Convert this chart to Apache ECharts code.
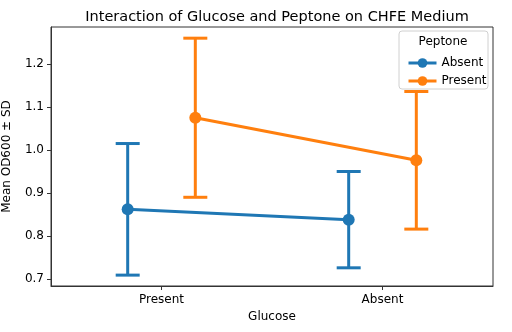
<!DOCTYPE html>
<html><head><meta charset="utf-8">
<script src="https://cdn.jsdelivr.net/npm/echarts@6/dist/echarts.min.js"></script>
<style>html,body{margin:0;padding:0;background:#fff}#c{width:512px;height:332px}</style>
</head><body><div id="c"></div>
<script>
var categories = ['Present', 'Absent'];
var hueNames = ['Absent', 'Present'];
var meansAbsent = [0.862, 0.838];
var sdAbsent = [0.153, 0.112];
var meansPresent = [1.075, 0.976];
var sdPresent = [0.185, 0.160];
var yTicks = [0.7, 0.8, 0.9, 1.0, 1.1, 1.2];
var colors = ['#1f77b4', '#ff7f0e'];
var dodge = 0.153;

var chart = echarts.init(document.getElementById('c'));
var font = 'DejaVu Sans';

function pts(means, off) { return means.map(function (m, i) { return [i + off, m]; }); }
function errs(means, sds, off) { return means.map(function (m, i) { return [i + off, m - sds[i], m + sds[i]]; }); }

function errSeries(name, data, color) {
  return {
    name: name, type: 'custom', xAxisIndex: 1, z: 2,
    data: data,
    encode: { x: 0, y: [1, 2] },
    renderItem: function (params, api) {
      var x = api.value(0);
      var lo = api.coord([x, api.value(1)]);
      var hi = api.coord([x, api.value(2)]);
      var cw = 12;
      var st = { stroke: color, lineWidth: 3 };
      return { type: 'group', children: [
        { type: 'line', shape: { x1: lo[0], y1: lo[1], x2: hi[0], y2: hi[1] }, style: st },
        { type: 'line', shape: { x1: lo[0] - cw, y1: lo[1], x2: lo[0] + cw, y2: lo[1] }, style: st },
        { type: 'line', shape: { x1: hi[0] - cw, y1: hi[1], x2: hi[0] + cw, y2: hi[1] }, style: st }
      ]};
    }
  };
}

function lineSeries(name, data, color) {
  return {
    name: name, type: 'line', xAxisIndex: 1, z: 3, data: data,
    symbol: 'circle', symbolSize: 12,
    lineStyle: { color: color, width: 3 },
    itemStyle: { color: color },
    emphasis: { disabled: true }
  };
}

chart.setOption({
  animation: false,
  color: colors,
  title: {
    text: 'Interaction of Glucose and Peptone on CHFE Medium',
    left: 272, top: 5, textAlign: 'center',
    textStyle: { fontFamily: font, fontSize: 14.5, fontWeight: 'normal', color: '#000' }
  },
  grid: { left: 51, right: 19, top: 27, bottom: 46, show: true, borderColor: '#333', borderWidth: 1,
    backgroundColor: 'transparent', containLabel: false, outerBoundsMode: 'none' },
  graphic: [
    { type: 'rect', shape: { x: 399, y: 31, width: 89, height: 58, r: 3 }, style: { fill: 'rgba(255,255,255,0.8)', stroke: '#d0d0d0', lineWidth: 1 }, z: 10 },
    { type: 'text', x: 443, y: 36, style: { text: 'Peptone', fontFamily: font, fontSize: 12, fill: '#000', textAlign: 'center' }, z: 11 }
  ],
  legend: {
    data: hueNames, orient: 'vertical', left: 402, top: 52, itemGap: 6,
    itemWidth: 28, itemHeight: 12, z: 12,
    lineStyle: { width: 3 },
    textStyle: { fontFamily: font, fontSize: 12, color: '#000' }
  },
  xAxis: [
    {
      type: 'category', data: categories, boundaryGap: true,
      name: 'Glucose', nameLocation: 'middle', nameGap: 25,
      nameTextStyle: { fontFamily: font, fontSize: 12, color: '#000' },
      axisLine: { show: true, onZero: false, lineStyle: { color: '#333' } },
      axisTick: { show: true, alignWithLabel: true, length: 4, lineStyle: { color: '#333' } },
      axisLabel: { fontFamily: font, fontSize: 12, color: '#000', margin: 8 },
      splitLine: { show: false }
    },
    { type: 'value', min: -0.5, max: 1.5, show: false, splitLine: { show: false } }
  ],
  yAxis: {
    type: 'value', min: 0.6837, max: 1.286,
    name: 'Mean OD600 ± SD', nameLocation: 'middle', nameGap: 38,
    nameTextStyle: { fontFamily: font, fontSize: 12, color: '#000' },
    axisLine: { show: true, onZero: false, lineStyle: { color: '#333' } },
    axisTick: { show: true, length: 4, customValues: yTicks, lineStyle: { color: '#333' } },
    axisLabel: { fontFamily: font, fontSize: 12, color: '#000', margin: 7, customValues: yTicks,
      formatter: function (v) { return v.toFixed(1); } },
    splitLine: { show: false }
  },
  series: [
    errSeries('errAbsent', errs(meansAbsent, sdAbsent, -dodge), colors[0]),
    errSeries('errPresent', errs(meansPresent, sdPresent, dodge), colors[1]),
    lineSeries(hueNames[0], pts(meansAbsent, -dodge), colors[0]),
    lineSeries(hueNames[1], pts(meansPresent, dodge), colors[1])
  ]
});
</script></body></html>
